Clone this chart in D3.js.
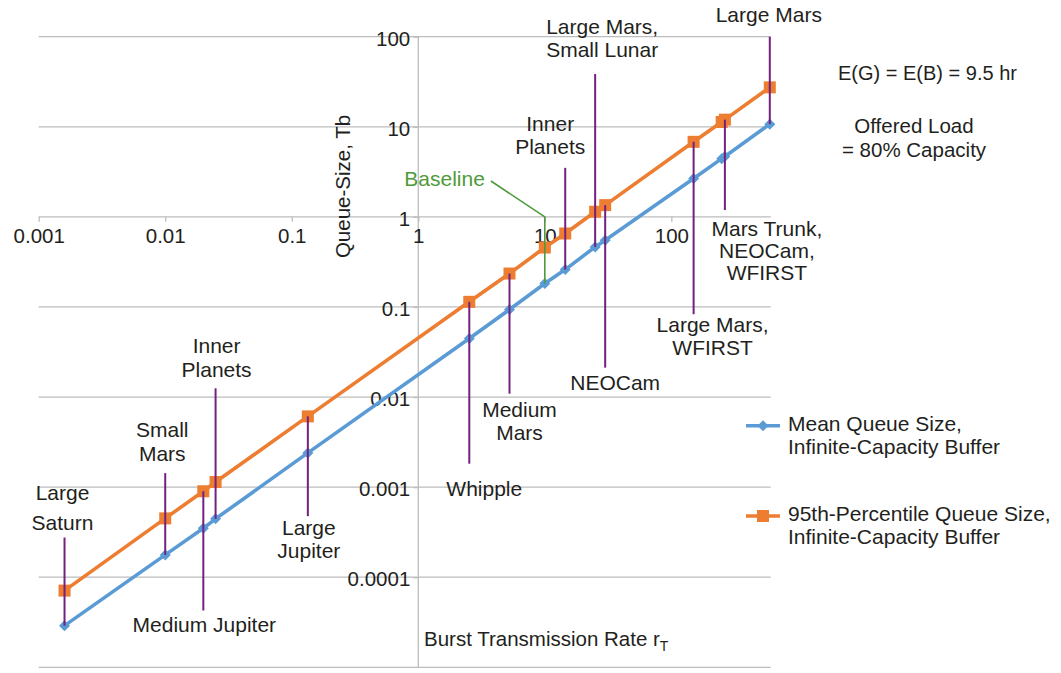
<!DOCTYPE html>
<html>
<head>
<meta charset="utf-8">
<script src="https://cdn.jsdelivr.net/npm/d3@7"></script>
<style>
  html, body { margin: 0; padding: 0; background: #ffffff; }
  svg text { font-family: "Liberation Sans", Arial, Helvetica, sans-serif; fill: #231f20; }
</style>
</head>
<body>
<svg id="chart" width="1061" height="673"></svg>
<script>
// Burst transmission rate r_T for each mission case
const rates = [0.0016, 0.01, 0.02, 0.025, 0.134, 2.53, 5.26, 10, 14.5, 25, 30, 150, 250, 265, 600];
// Mean queue size, infinite-capacity buffer (Tb)
const meanQueue = [2.9e-5, 1.77e-4, 3.5e-4, 4.45e-4, 2.4e-3, 0.0446, 0.0936, 0.182, 0.26, 0.464, 0.551, 2.67, 4.43, 4.69, 10.7];
// 95th-percentile queue size, infinite-capacity buffer (Tb)
const p95Queue = [7.1e-5, 4.5e-4, 9.0e-4, 1.14e-3, 6.1e-3, 0.114, 0.235, 0.457, 0.654, 1.14, 1.35, 6.81, 11.3, 12.0, 27.4];

const xTickValues = [0.001, 0.01, 0.1, 1, 10, 100];
const xTickLabels = ["0.001", "0.01", "0.1", "1", "10", "100"];
const yTickValues = [100, 10, 1, 0.1, 0.01, 0.001, 0.0001];
const yTickLabels = ["100", "10", "1", "0.1", "0.01", "0.001", "0.0001"];
const yGridValues = [100, 10, 1, 0.1, 0.01, 0.001, 0.0001, 0.00001];

// Mission callouts: point index, text lines, far end of the leader (Tb),
// which side the text sits on, and small layout nudges
const callouts = [
  { i: 0,  lines: ["Large", "Saturn"],               end: 2.76e-4, side: "up",   dx: -2, gap: 15, lh: 30 },
  { i: 1,  lines: ["Small", "Mars"],                 end: 1.43e-3, side: "up",   dx: -3, gap: 19, lh: 24 },
  { i: 2,  lines: ["Medium Jupiter"],                end: 4.27e-5, side: "down", dx: 1,  gap: 14, lh: 23 },
  { i: 3,  lines: ["Inner", "Planets"],              end: 0.0125,  side: "up",   dx: 1,  gap: 19, lh: 24 },
  { i: 4,  lines: ["Large", "Jupiter"],              end: 4.76e-4, side: "down", dx: 1,  gap: 11, lh: 23 },
  { i: 5,  lines: ["Whipple"],                       end: 1.82e-3, side: "down", dx: 15, gap: 25, lh: 23 },
  { i: 6,  lines: ["Medium", "Mars"],                end: 0.0109,  side: "down", dx: 10, gap: 16, lh: 23 },
  { i: 8,  lines: ["Inner", "Planets"],              end: 3.5,     side: "up",   dx: -15, gap: 21, lh: 23 },
  { i: 9,  lines: ["Large Mars,", "Small Lunar"],    end: 38.5,    side: "up",   dx: 7,  gap: 24, lh: 23 },
  { i: 10, lines: ["NEOCam"],                        end: 0.0212,  side: "down", dx: 10, gap: 15, lh: 23 },
  { i: 11, lines: ["Large Mars,", "WFIRST"],         end: 0.083,   side: "down", dx: 19, gap: 10, lh: 23 },
  { i: 13, lines: ["Mars Trunk,", "NEOCam,", "WFIRST"], end: 1.19, side: "down", dx: 42, gap: 19, lh: 22 },
  { i: 14, lines: ["Large Mars"],                    end: 100,     side: "up",   dx: -1, gap: 22, lh: 23 }
];

// Baseline case leader: label corner, elbow on the 1 Tb line, then down to the mean point
const baselineIndex = 7;
const baselineLeader = [{ r: 3.75, q: 2.5 }, { r: 10, q: 1 }];

const colors = { mean: "#5b9bd5", p95: "#ed7d31", callout: "#74207f", baseline: "#4f9a3a", grid: "#bdbdbd" };
const labelSize = 21;
const tickSize = 20.5;

const svg = d3.select("#chart");

const x = d3.scaleLog().domain([0.001, 610]).range([38.7, 770.7]);
const y = d3.scaleLog().domain([0.00001, 100]).range([667.3, 36.7]);

// Horizontal gridlines
svg.append("g").selectAll("line").data(yGridValues).join("line")
  .attr("x1", x(0.001)).attr("x2", x(610))
  .attr("y1", d => y(d)).attr("y2", d => y(d))
  .attr("stroke", colors.grid).attr("stroke-width", 1.3);

// Vertical axis crossing at r_T = 1
svg.append("line")
  .attr("x1", x(1)).attr("x2", x(1)).attr("y1", y(100)).attr("y2", y(0.00001))
  .attr("stroke", colors.grid).attr("stroke-width", 1.3);

// Horizontal axis ticks (axis crosses at 1 Tb)
const xAxis = d3.axisBottom(x).tickValues(xTickValues).tickFormat((d, k) => xTickLabels[k]).tickSize(5).tickPadding(7);
const gx = svg.append("g").attr("transform", `translate(0,${y(1)})`).call(xAxis);
gx.select(".domain").remove();
gx.selectAll(".tick line").attr("stroke", colors.grid).attr("stroke-width", 1.3);
gx.selectAll(".tick text").attr("font-size", tickSize).attr("fill", "#231f20").attr("dy", "0.71em")
  .attr("font-family", "Liberation Sans, Arial, sans-serif");

const yAxis = d3.axisLeft(y).tickValues(yTickValues).tickFormat((d, k) => yTickLabels[k]).tickSize(5).tickPadding(3);
const gy = svg.append("g").attr("transform", `translate(${x(1)},0)`).call(yAxis);
gy.select(".domain").remove();
gy.selectAll(".tick line").attr("stroke", colors.grid).attr("stroke-width", 1.3);
gy.selectAll(".tick text").attr("font-size", tickSize).attr("fill", "#231f20").attr("dy", "0.42em")
  .attr("font-family", "Liberation Sans, Arial, sans-serif");

// Axis titles
svg.append("text")
  .attr("transform", `translate(343,${186.5}) rotate(-90)`)
  .attr("text-anchor", "middle").attr("dy", "0.35em").attr("font-size", 20.5)
  .text("Queue-Size, Tb");

const xTitle = svg.append("text").attr("x", 424).attr("y", 646).attr("font-size", 20.5);
xTitle.append("tspan").text("Burst Transmission Rate r");
xTitle.append("tspan").attr("font-size", 14).attr("dy", 5).text("T");

// Series lines
const meanPts = rates.map((r, k) => [r, meanQueue[k]]);
const p95Pts = rates.map((r, k) => [r, p95Queue[k]]);
const line = d3.line().x(d => x(d[0])).y(d => y(d[1]));

svg.append("path").datum(meanPts).attr("d", line)
  .attr("fill", "none").attr("stroke", colors.mean).attr("stroke-width", 3.6).attr("stroke-linejoin", "round");
svg.append("path").datum(p95Pts).attr("d", line)
  .attr("fill", "none").attr("stroke", colors.p95).attr("stroke-width", 3.6).attr("stroke-linejoin", "round");

// Square-proportioned diamond marker
const diamondPath = "M0,-5.5L5.5,0L0,5.5L-5.5,0Z";
svg.append("g").selectAll("path").data(meanPts).join("path")
  .attr("d", diamondPath).attr("transform", d => `translate(${x(d[0])},${y(d[1])})`)
  .attr("fill", colors.mean);
svg.append("g").selectAll("rect").data(p95Pts).join("rect")
  .attr("x", d => x(d[0]) - 6).attr("y", d => y(d[1]) - 6)
  .attr("width", 12).attr("height", 12).attr("fill", colors.p95);

// Callout leaders and labels
const cg = svg.append("g");
callouts.forEach(c => {
  const px = x(rates[c.i]);
  const near = c.side === "up" ? y(meanQueue[c.i]) : y(p95Queue[c.i]);
  const far = y(c.end);
  cg.append("line").attr("x1", px).attr("x2", px).attr("y1", near).attr("y2", far)
    .attr("stroke", colors.callout).attr("stroke-width", 2);
  const n = c.lines.length;
  const firstY = c.side === "up" ? far - c.gap - (n - 1) * c.lh : far + c.gap;
  const t = cg.append("text").attr("text-anchor", "middle").attr("font-size", labelSize);
  c.lines.forEach((s, k) => {
    t.append("tspan").attr("x", px + c.dx).attr("y", firstY + k * c.lh).attr("dy", "0.35em").text(s);
  });
});

// Baseline leader
const bl = baselineLeader.map(p => [x(p.r), y(p.q)]);
bl.push([x(rates[baselineIndex]), y(meanQueue[baselineIndex])]);
svg.append("path").attr("d", d3.line()(bl)).attr("fill", "none")
  .attr("stroke", colors.baseline).attr("stroke-width", 1.6);
svg.append("text").attr("x", bl[0][0] - 6).attr("y", bl[0][1] - 2.5).attr("dy", "0.35em")
  .attr("text-anchor", "end").attr("font-size", labelSize).style("fill", colors.baseline).text("Baseline");

// Scenario notes
svg.append("text").attr("x", 838).attr("y", 73).attr("dy", "0.35em").attr("font-size", 20)
  .text("E(G) = E(B) = 9.5 hr");
svg.append("text").attr("x", 914).attr("y", 126).attr("dy", "0.35em").attr("text-anchor", "middle").attr("font-size", 20.5)
  .text("Offered Load");
svg.append("text").attr("x", 914).attr("y", 150).attr("dy", "0.35em").attr("text-anchor", "middle").attr("font-size", 20.5)
  .text("= 80% Capacity");

// Legend
const legend = [
  { color: colors.mean, marker: "diamond", y: 425.7, lines: ["Mean Queue Size,", "Infinite-Capacity Buffer"] },
  { color: colors.p95, marker: "square", y: 516, lines: ["95th-Percentile Queue Size,", "Infinite-Capacity Buffer"] }
];
const lg = svg.append("g");
legend.forEach(L => {
  lg.append("line").attr("x1", 746).attr("x2", 780).attr("y1", L.y).attr("y2", L.y)
    .attr("stroke", L.color).attr("stroke-width", 3.6);
  if (L.marker === "diamond") {
    lg.append("path").attr("d", diamondPath).attr("transform", `translate(763,${L.y})`).attr("fill", L.color);
  } else {
    lg.append("rect").attr("x", 757).attr("y", L.y - 6).attr("width", 12).attr("height", 12).attr("fill", L.color);
  }
  const t = lg.append("text").attr("font-size", labelSize);
  L.lines.forEach((s, k) => {
    t.append("tspan").attr("x", 788).attr("y", L.y - 2.5 + k * 23.4).attr("dy", "0.35em").text(s);
  });
});
</script>
</body>
</html>
